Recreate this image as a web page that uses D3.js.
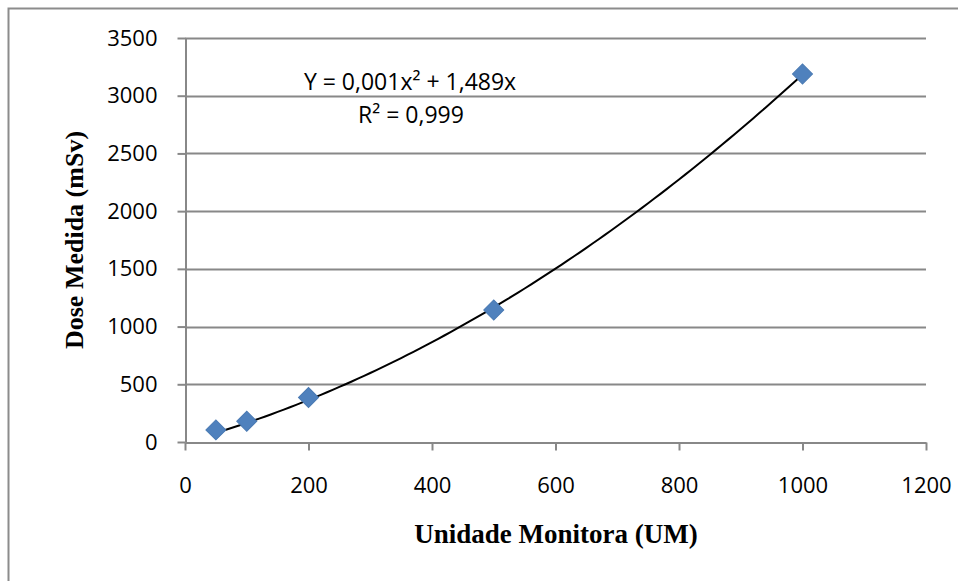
<!DOCTYPE html>
<html>
<head>
<meta charset="utf-8">
<script src="https://cdn.jsdelivr.net/npm/d3@7"></script>
<style>
  body { margin: 0; background: #fff; }
  svg { display: block; }
</style>
</head>
<body>
<svg width="958" height="581"></svg>
<script>
// measured values
const um = [50, 100, 200, 500, 1000];
const dose = [105, 180, 385, 1143, 3188];
const xTicks = [0, 200, 400, 600, 800, 1000, 1200];
const yTicks = [0, 500, 1000, 1500, 2000, 2500, 3000, 3500];
const eqLine1 = "Y = 0,001x² + 1,489x";
const eqLine2 = "R² = 0,999";

const margin = { top: 38, right: 32, bottom: 139, left: 185 };
const width = 958, height = 581;
const tickFont = "'Open Sans', 'Noto Sans', sans-serif";

const svg = d3.select("svg");

// outer frame (cropped at right and bottom)
svg.append("rect")
  .attr("x", 8.5).attr("y", 8.5)
  .attr("width", 980).attr("height", 620)
  .attr("fill", "none")
  .attr("stroke", "#8c8c8c")
  .attr("stroke-width", 2);

const x = d3.scaleLinear()
  .domain([0, 1200])
  .range([margin.left, width - margin.right]);

const y = d3.scaleLinear()
  .domain([0, 3500])
  .range([height - margin.bottom, margin.top]);

// gridlines
svg.append("g")
  .selectAll("line")
  .data(yTicks.slice(1))
  .join("line")
  .attr("x1", x(0)).attr("x2", x(1200))
  .attr("y1", d => Math.round(y(d)) + 0.5)
  .attr("y2", d => Math.round(y(d)) + 0.5)
  .attr("stroke", "#888")
  .attr("stroke-width", 2);

const xAxis = g => g
  .attr("transform", `translate(0,${Math.round(y(0)) + 0.5})`)
  .call(d3.axisBottom(x).tickValues(xTicks).tickFormat(d3.format("d"))
    .tickSize(8).tickSizeOuter(0).tickPadding(27))
  .attr("font-family", tickFont)
  .attr("font-size", 22)
  .call(g => g.selectAll("text").attr("fill", "#000"))
  .call(g => g.selectAll("line, path").attr("stroke", "#888").attr("stroke-width", 2));

const yAxis = g => g
  .attr("transform", `translate(${Math.round(x(0)) + 0.5},0)`)
  .call(d3.axisLeft(y).tickValues(yTicks).tickFormat(d3.format("d"))
    .tickSize(8).tickSizeOuter(0).tickPadding(20))
  .attr("font-family", tickFont)
  .attr("font-size", 22)
  .call(g => g.selectAll("text").attr("fill", "#000"))
  .call(g => g.selectAll("line, path").attr("stroke", "#888").attr("stroke-width", 2));

svg.append("g").call(xAxis);
svg.append("g").call(yAxis);

// polynomial trend (order 2, through origin) fitted to the points
let s4 = 0, s3 = 0, s2 = 0, sx2y = 0, sxy = 0;
um.forEach((u, i) => {
  s4 += u ** 4; s3 += u ** 3; s2 += u ** 2;
  sx2y += u * u * dose[i]; sxy += u * dose[i];
});
const det = s4 * s2 - s3 * s3;
const a = (sx2y * s2 - s3 * sxy) / det;
const b = (s4 * sxy - s3 * sx2y) / det;

const trendX = d3.range(d3.min(um), d3.max(um) + 1, 10);
svg.append("path")
  .datum(trendX)
  .attr("fill", "none")
  .attr("stroke", "#000")
  .attr("stroke-width", 2)
  .attr("d", d3.line().x(d => x(d)).y(d => y(a * d * d + b * d)));

// markers
svg.append("g")
  .selectAll("path")
  .data(um.map((u, i) => [u, dose[i]]))
  .join("path")
  .attr("d", d3.symbol(d3.symbolSquare, 200))
  .attr("transform", d => `translate(${x(d[0])},${y(d[1])}) rotate(45)`)
  .attr("fill", "#4f81bd")
  .attr("stroke", "#4a7ab3")
  .attr("stroke-width", 1);

// equation label
const eq = svg.append("g")
  .attr("font-family", tickFont)
  .attr("font-size", 23)
  .attr("text-anchor", "middle");
eq.append("text").attr("x", 410).attr("y", 90).text(eqLine1);
eq.append("text").attr("x", 411).attr("y", 123).text(eqLine2);

// axis titles
svg.append("text")
  .attr("x", 556)
  .attr("y", 543)
  .attr("text-anchor", "middle")
  .attr("font-family", "'Liberation Serif', 'Times New Roman', serif")
  .attr("font-weight", "bold")
  .attr("font-size", 27)
  .text("Unidade Monitora (UM)");

svg.append("text")
  .attr("transform", `translate(83,${(y(0) + y(3500)) / 2}) rotate(-90)`)
  .attr("text-anchor", "middle")
  .attr("font-family", "'Liberation Serif', 'Times New Roman', serif")
  .attr("font-weight", "bold")
  .attr("font-size", 26)
  .text("Dose Medida (mSv)");
</script>
</body>
</html>
